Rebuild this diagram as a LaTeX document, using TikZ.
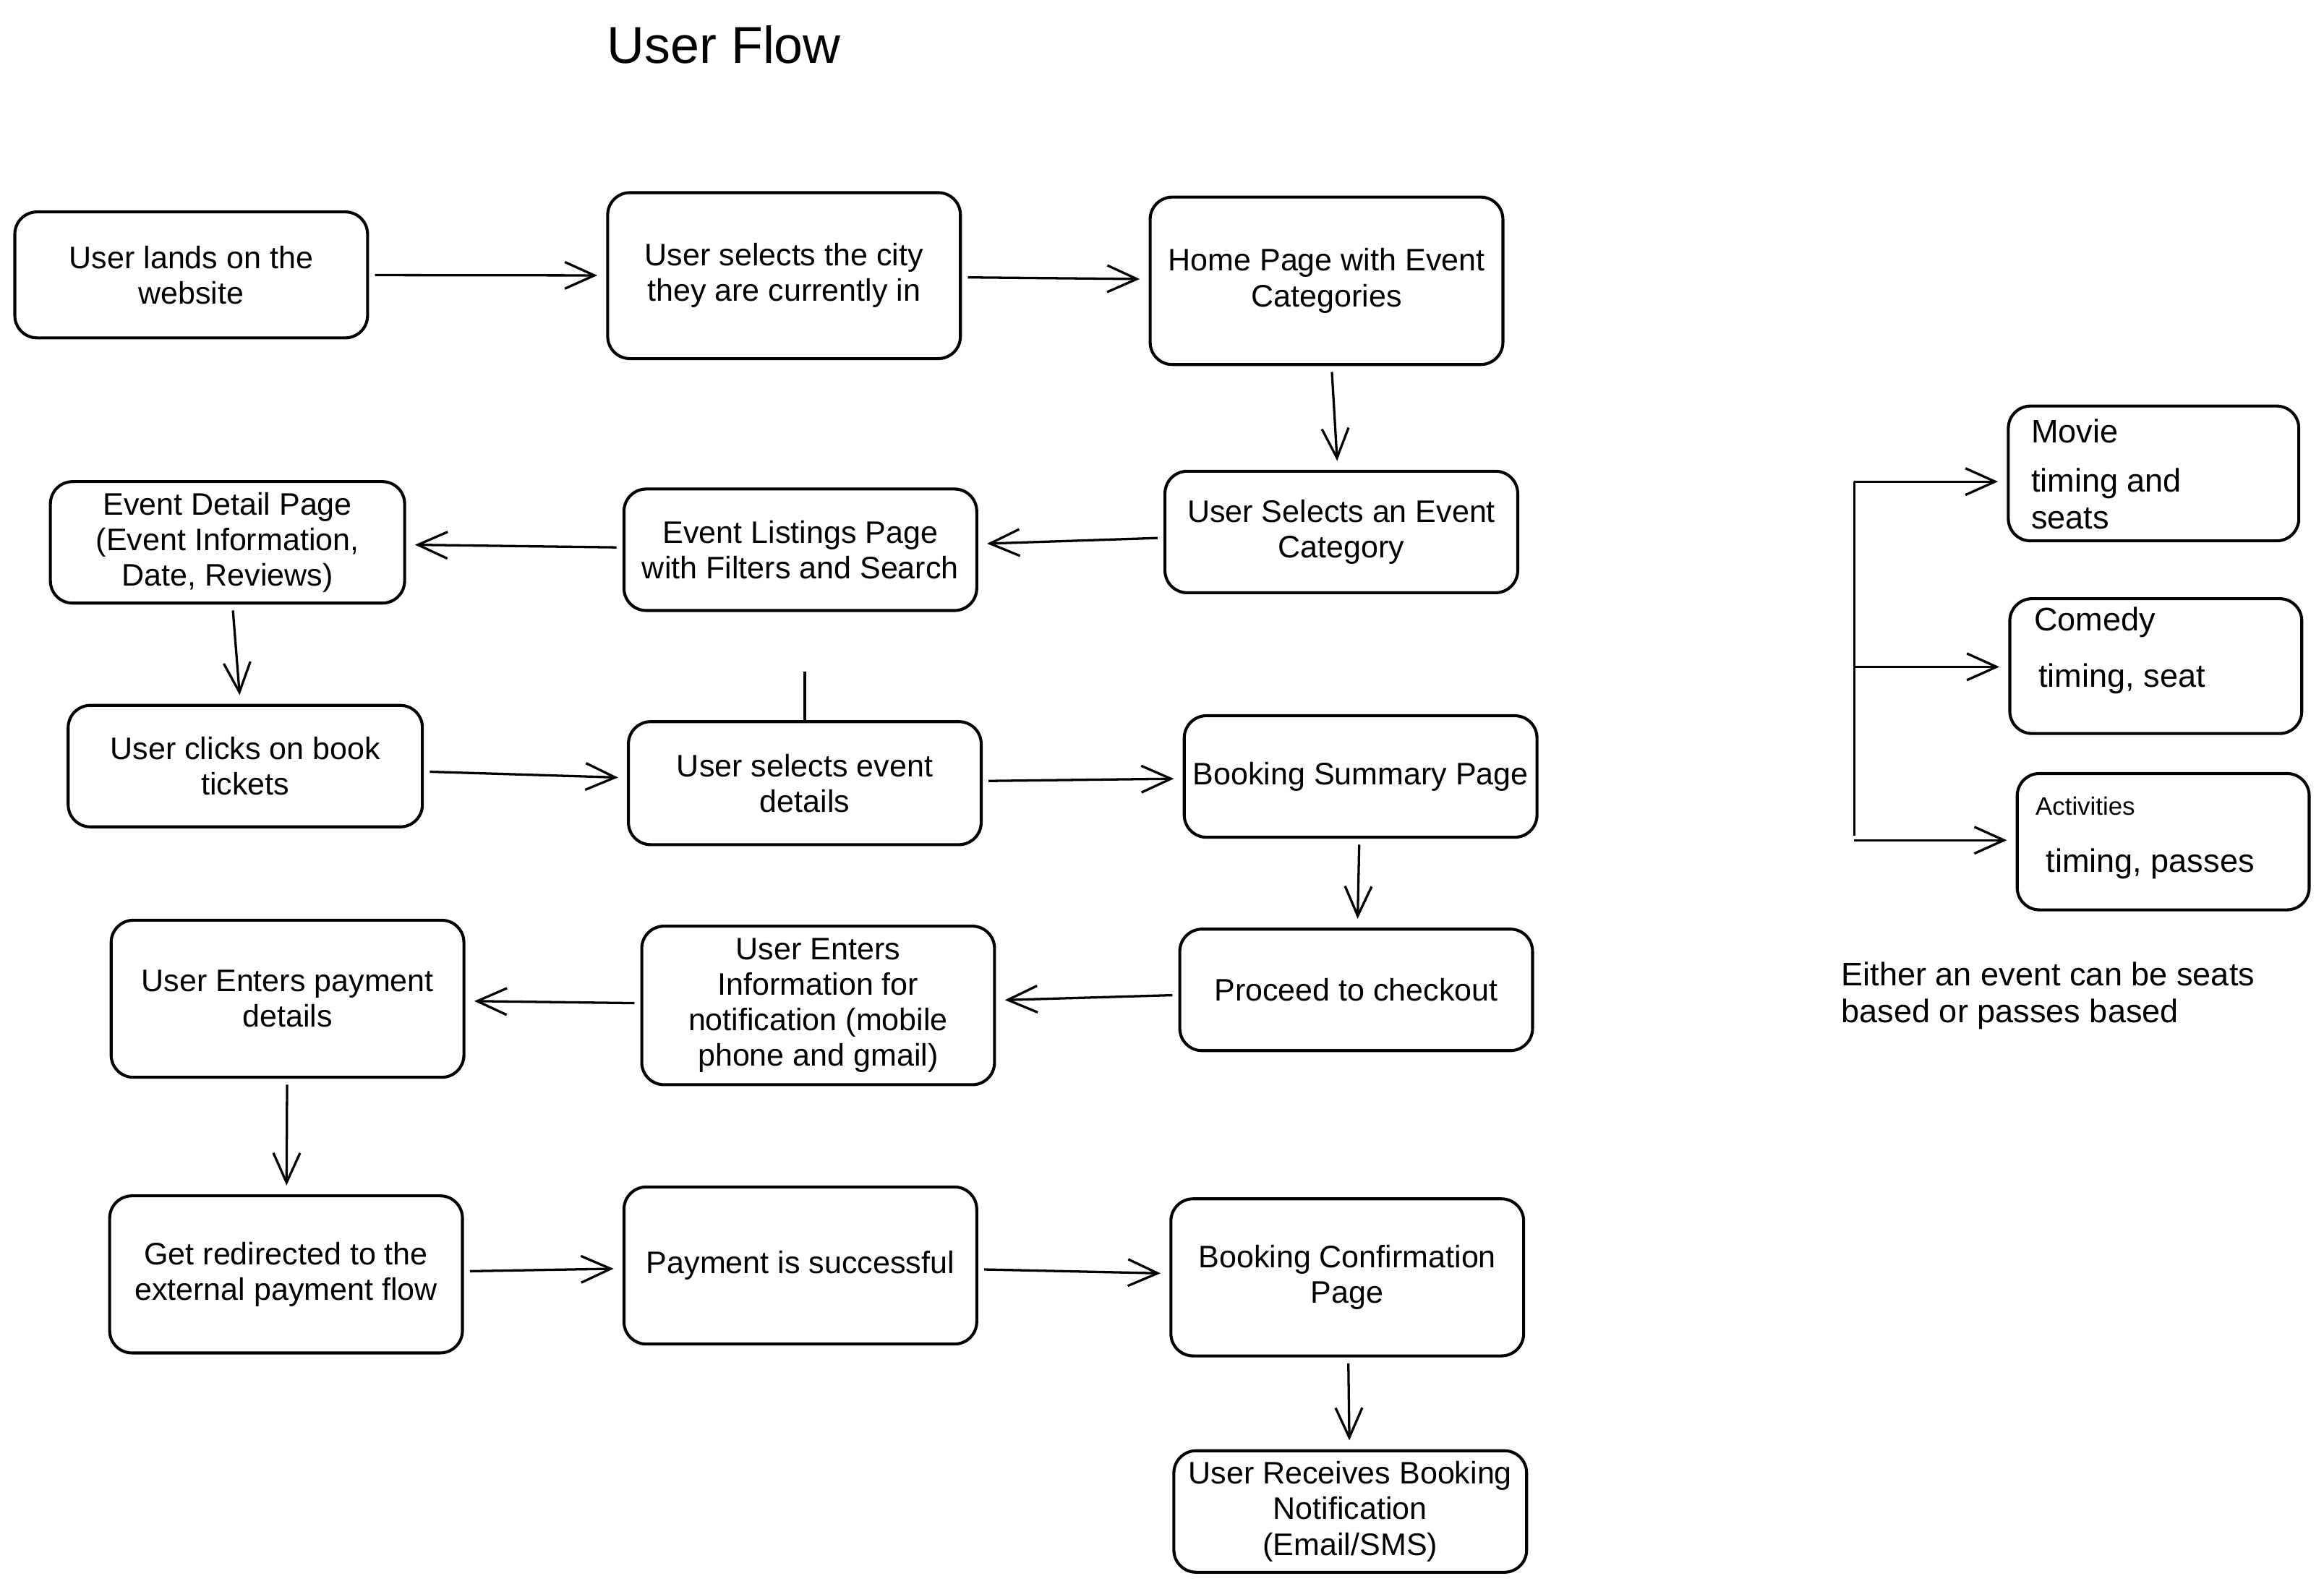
\documentclass[tikz,border=0pt]{standalone}
\usepackage{fontspec}
\setmainfont{Liberation Sans}
\usetikzlibrary{arrows.meta}

\tikzset{
  flowbox/.style={draw, rounded corners=7.5pt, line width=1pt, minimum width=119pt, align=center, inner sep=2pt, font=\fontsize{10.5}{12}\selectfont},
  sidebox/.style={draw, rounded corners=7.5pt, line width=1pt, minimum width=98pt},
  sidetext/.style={anchor=west, align=left, inner sep=0pt, font=\fontsize{11}{12.5}\selectfont},
  flowarrow/.style={line width=0.8pt, -{Straight Barb[length=10pt,width=9pt,line width=0.8pt]}, shorten <=2pt, shorten >=3pt},
  flowline/.style={line width=0.8pt}
}

\begin{document}
\begin{tikzpicture}[x=0.5pt,y=0.5pt,yscale=-1,xscale=1]
    \useasboundingbox [fill=white] (0,0) rectangle (1568,1072);

    % Title
    \node (title) at (488.5,30) [font=\fontsize{17.5}{20}\selectfont] {User Flow};

    %Shape: Rounded Rect, first row
    \node (land) at (129,185.5) [flowbox, minimum height=42.5pt] {User lands on the\\website};
    \node (city) at (529,186) [flowbox, minimum height=56pt] {User selects the city\\they are currently in};
    \node (home) at (895,189.5) [flowbox, minimum height=56.5pt] {Home Page with Event\\Categories};

    %Shape: Rounded Rect, second row
    \node (cat) at (905,359) [flowbox, minimum height=41pt] {User Selects an Event\\Category};
    \node (list) at (540,371) [flowbox, minimum height=41pt] {Event Listings Page\\with Filters and Search};
    \node (detail) at (153.5,366) [flowbox, minimum height=41pt, minimum width=119.5pt] {Event Detail Page\\(Event Information,\\Date, Reviews)};

    %Shape: Rounded Rect, third row
    \node (book) at (165.5,517) [flowbox, minimum height=41pt, minimum width=119.5pt] {User clicks on book\\tickets};
    \node (evdet) at (543,528.5) [flowbox, minimum height=41.5pt] {User selects event\\details};
    \node (summ) at (918,524) [flowbox, minimum height=41pt] {Booking Summary Page};

    %Shape: Rounded Rect, fourth row
    \node (chk) at (915,668) [flowbox, minimum height=41pt] {Proceed to checkout};
    \node (notif) at (552,678.5) [flowbox, minimum height=53.5pt] {User Enters\\Information for\\notification (mobile\\phone and gmail)};
    \node (pay) at (194,674) [flowbox, minimum height=53pt] {User Enters payment\\details};

    %Shape: Rounded Rect, fifth row
    \node (redir) at (193,860) [flowbox, minimum height=53pt] {Get redirected to the\\external payment flow};
    \node (succ) at (540,854) [flowbox, minimum height=53pt] {Payment is successful};
    \node (conf) at (909,862) [flowbox, minimum height=53pt] {Booking Confirmation\\Page};
    \node (recv) at (911,1020) [flowbox, minimum height=41pt] {User Receives Booking\\Notification\\(Email/SMS)};

    %Straight Lines, main flow
    \draw [flowarrow] (land) -- (city);
    \draw [flowarrow] (city) -- (home);
    \draw [flowarrow] (home) -- (cat);
    \draw [flowarrow] (cat) -- (list);
    \draw [flowarrow] (list) -- (detail);
    \draw [flowarrow] (detail) -- (book);
    \draw [flowarrow] (book) -- (evdet);
    \draw [flowarrow] (evdet) -- (summ);
    \draw [flowarrow] (summ) -- (chk);
    \draw [flowarrow] (chk) -- (notif);
    \draw [flowarrow] (notif) -- (pay);
    \draw [flowarrow] (pay) -- (redir);
    \draw [flowarrow] (redir) -- (succ);
    \draw [flowarrow] (succ) -- (conf);
    \draw [flowarrow] (conf) -- (recv);

    %Straight Lines, loose stub above event details
    \coordinate (stub) at (543,453);
    \draw [flowline] (stub) -- ([yshift=1pt]stub |- evdet.north);

    %Shape: Rounded Rect, event kinds
    \node (movie) at (1453,319.5) [sidebox, minimum height=45.5pt] {};
    \node (comedy) at (1454.5,449.5) [sidebox, minimum height=45.5pt, minimum width=98.5pt] {};
    \node (activ) at (1459.5,568) [sidebox, minimum height=46pt, minimum width=98.5pt] {};

    % Text Node
    \node (movielbl) at (1370,291) [sidetext] {Movie};
    \node (movieinfo) at (1370,336.5) [sidetext] {timing and\\seats};
    \node (comedylbl) at (1372,420) [sidetext] {Comedy};
    \node (comedyinfo) at (1375,458) [sidetext] {timing, seat};
    \node (activlbl) at (1373,544) [sidetext, font=\fontsize{8.5}{10}\selectfont] {Activities};
    \node (activinfo) at (1380,583) [sidetext] {timing, passes};

    %Straight Lines, branch
    \coordinate (br1) at (1251,325);
    \coordinate (br2) at (1251,450);
    \coordinate (br3) at (1251,567);
    \draw [flowline] (br1) -- ([yshift=-1.5pt]br3);
    \draw [flowarrow, shorten <=0pt] (br1) -- (br1 -| movie.west);
    \draw [flowarrow, shorten <=0pt] (br2) -- (br2 -| comedy.west);
    \draw [flowarrow, shorten <=0pt] (br3) -- (br3 -| activ.west);

    % Text Node
    \node (note) at (1242,672) [sidetext] {Either an event can be seats\\based or passes based};

\end{tikzpicture}
\end{document}
